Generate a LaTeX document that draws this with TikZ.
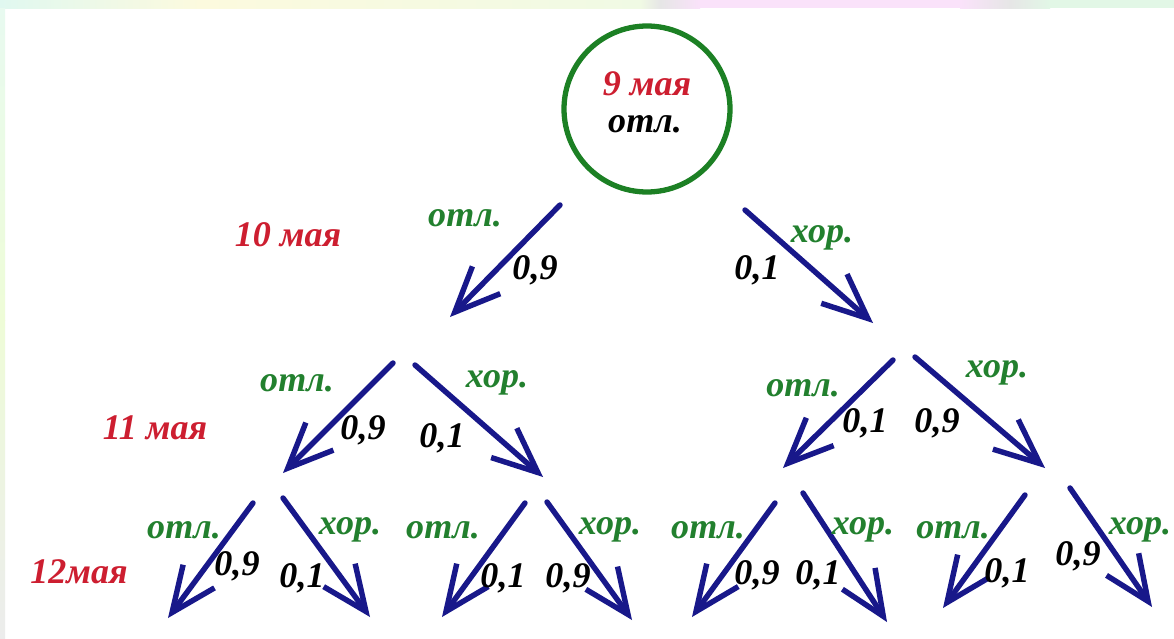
\documentclass[tikz,border=0pt]{standalone}
\usepackage{fontspec}
\setmainfont{Liberation Serif}
\usetikzlibrary{arrows.meta}
\definecolor{cDay}{RGB}{205,30,48}
\definecolor{cGrade}{RGB}{34,128,46}
\definecolor{cRing}{RGB}{28,128,36}
\definecolor{cBranch}{RGB}{24,24,138}
\definecolor{cStripA}{RGB}{224,248,240}
\definecolor{cStripB}{RGB}{252,250,222}
\definecolor{cStripC}{RGB}{240,250,228}
\definecolor{cStripGray}{RGB}{230,230,230}
\definecolor{cStripPink}{RGB}{250,226,250}
\definecolor{cStripGreen}{RGB}{226,247,230}
\definecolor{cSideA}{RGB}{232,250,240}
\definecolor{cSideB}{RGB}{238,252,215}
\definecolor{cSideC}{RGB}{236,236,236}

\begin{document}
\begin{tikzpicture}[x=0.02cm, y=-0.02cm, font=\fontsize{20.5}{24}\selectfont\bfseries\itshape]

% ------------------- styles -------------------
\tikzstyle{day} = [text=cDay, inner sep=1pt]
\tikzstyle{grade} = [text=cGrade, inner sep=1pt]
\tikzstyle{prob} = [text=black, inner sep=1pt]
\tikzstyle{branch} = [-{Straight Barb[length=0.9cm, width=0.78cm]}, line width=3.1pt, draw=cBranch, line cap=round]

% ------------------- frame -------------------
\useasboundingbox (0,0) rectangle (1174,639);
\fill[white] (0,0) rectangle (1174,639);
\shade[left color=cStripA, right color=cStripB] (0,0) rectangle (200,8);
\shade[left color=cStripB, right color=cStripC] (200,0) rectangle (640,8);
\shade[left color=cStripC, right color=cStripGray] (640,0) rectangle (660,8);
\shade[left color=cStripGray, right color=cStripPink] (660,0) rectangle (700,8);
\fill[cStripPink] (700,0) rectangle (960,8);
\shade[left color=cStripPink, right color=cStripGray] (960,0) rectangle (1010,8);
\shade[left color=cStripGray, right color=cStripGreen] (1010,0) rectangle (1050,8);
\fill[cStripGreen] (1050,0) rectangle (1174,8);
\shade[top color=cSideA, bottom color=cSideB] (0,8) rectangle (5,320);
\shade[top color=cSideB, bottom color=cSideC] (0,320) rectangle (5,639);

% ------------------- 9 мая -------------------
\node[circle, draw=cRing, line width=3pt, minimum size=3.32cm] (root) at (647,109) {};
\node[day, inner sep=0pt] (rootday) at (647,84) {9 мая};
\node[prob, inner sep=0pt] (rootgrade) at (645,124) {отл.};

% ------------------- days -------------------
\node[day] (day10) at (288,235) {10 мая};
\node[day] (day11) at (155,428) {11 мая};
\node[day] (day12) at (79,572) {12мая};

% ------------------- branch ends -------------------
% 10 мая
\coordinate (o-s) at (560,205);   \coordinate (o-t) at (450,317);
\coordinate (h-s) at (745,210);   \coordinate (h-t) at (873,323);
% 11 мая
\coordinate (oo-s) at (393,363);  \coordinate (oo-t) at (283,473);
\coordinate (oh-s) at (415,365);  \coordinate (oh-t) at (543,477);
\coordinate (ho-s) at (893,360);  \coordinate (ho-t) at (783,468);
\coordinate (hh-s) at (915,357);  \coordinate (hh-t) at (1045,468);
% 12 мая
\coordinate (ooo-s) at (253,503); \coordinate (ooo-t) at (168,618);
\coordinate (ooh-s) at (283,498); \coordinate (ooh-t) at (370,617);
\coordinate (oho-s) at (525,503); \coordinate (oho-t) at (442,617);
\coordinate (ohh-s) at (547,502); \coordinate (ohh-t) at (632,620);
\coordinate (hoo-s) at (775,503); \coordinate (hoo-t) at (692,617);
\coordinate (hoh-s) at (803,493); \coordinate (hoh-t) at (887,622);
\coordinate (hho-s) at (1025,495); \coordinate (hho-t) at (943,608);
\coordinate (hhh-s) at (1070,488); \coordinate (hhh-t) at (1152,607);

\foreach \b in {o,h,oo,oh,ho,hh,ooo,ooh,oho,ohh,hoo,hoh,hho,hhh}
  \draw[branch] (\b-s) -- (\b-t);

% ------------------- labels -------------------
% 10 мая
\node[grade] (o-grade) at (465,218) {отл.};
\node[prob] (o-prob) at (535,270) {0,9};
\node[prob] (h-prob) at (757,270) {0,1};
\node[grade] (h-grade) at (822,238) {хор.};
% 11 мая
\node[grade] (oo-grade) at (297,383) {отл.};
\node[prob] (oo-prob) at (363,430) {0,9};
\node[prob] (oh-prob) at (442,438) {0,1};
\node[grade] (oh-grade) at (497,383) {хор.};
\node[grade] (ho-grade) at (803,388) {отл.};
\node[prob] (ho-prob) at (865,423) {0,1};
\node[prob] (hh-prob) at (937,423) {0,9};
\node[grade] (hh-grade) at (997,373) {хор.};
% 12 мая
\node[grade] (ooo-grade) at (184,530) {отл.};
\node[prob] (ooo-prob) at (237,566) {0,9};
\node[prob] (ooh-prob) at (302,578) {0,1};
\node[grade] (ooh-grade) at (350,530) {хор.};
\node[grade] (oho-grade) at (443,530) {отл.};
\node[prob] (oho-prob) at (503,578) {0,1};
\node[prob] (ohh-prob) at (568,578) {0,9};
\node[grade] (ohh-grade) at (610,530) {хор.};
\node[grade] (hoo-grade) at (708,530) {отл.};
\node[prob] (hoo-prob) at (757,575) {0,9};
\node[prob] (hoh-prob) at (818,575) {0,1};
\node[grade] (hoh-grade) at (863,530) {хор.};
\node[grade] (hho-grade) at (953,530) {отл.};
\node[prob] (hho-prob) at (1007,573) {0,1};
\node[prob] (hhh-prob) at (1078,556) {0,9};
\node[grade] (hhh-grade) at (1140,530) {хор.};

\end{tikzpicture}
\end{document}
